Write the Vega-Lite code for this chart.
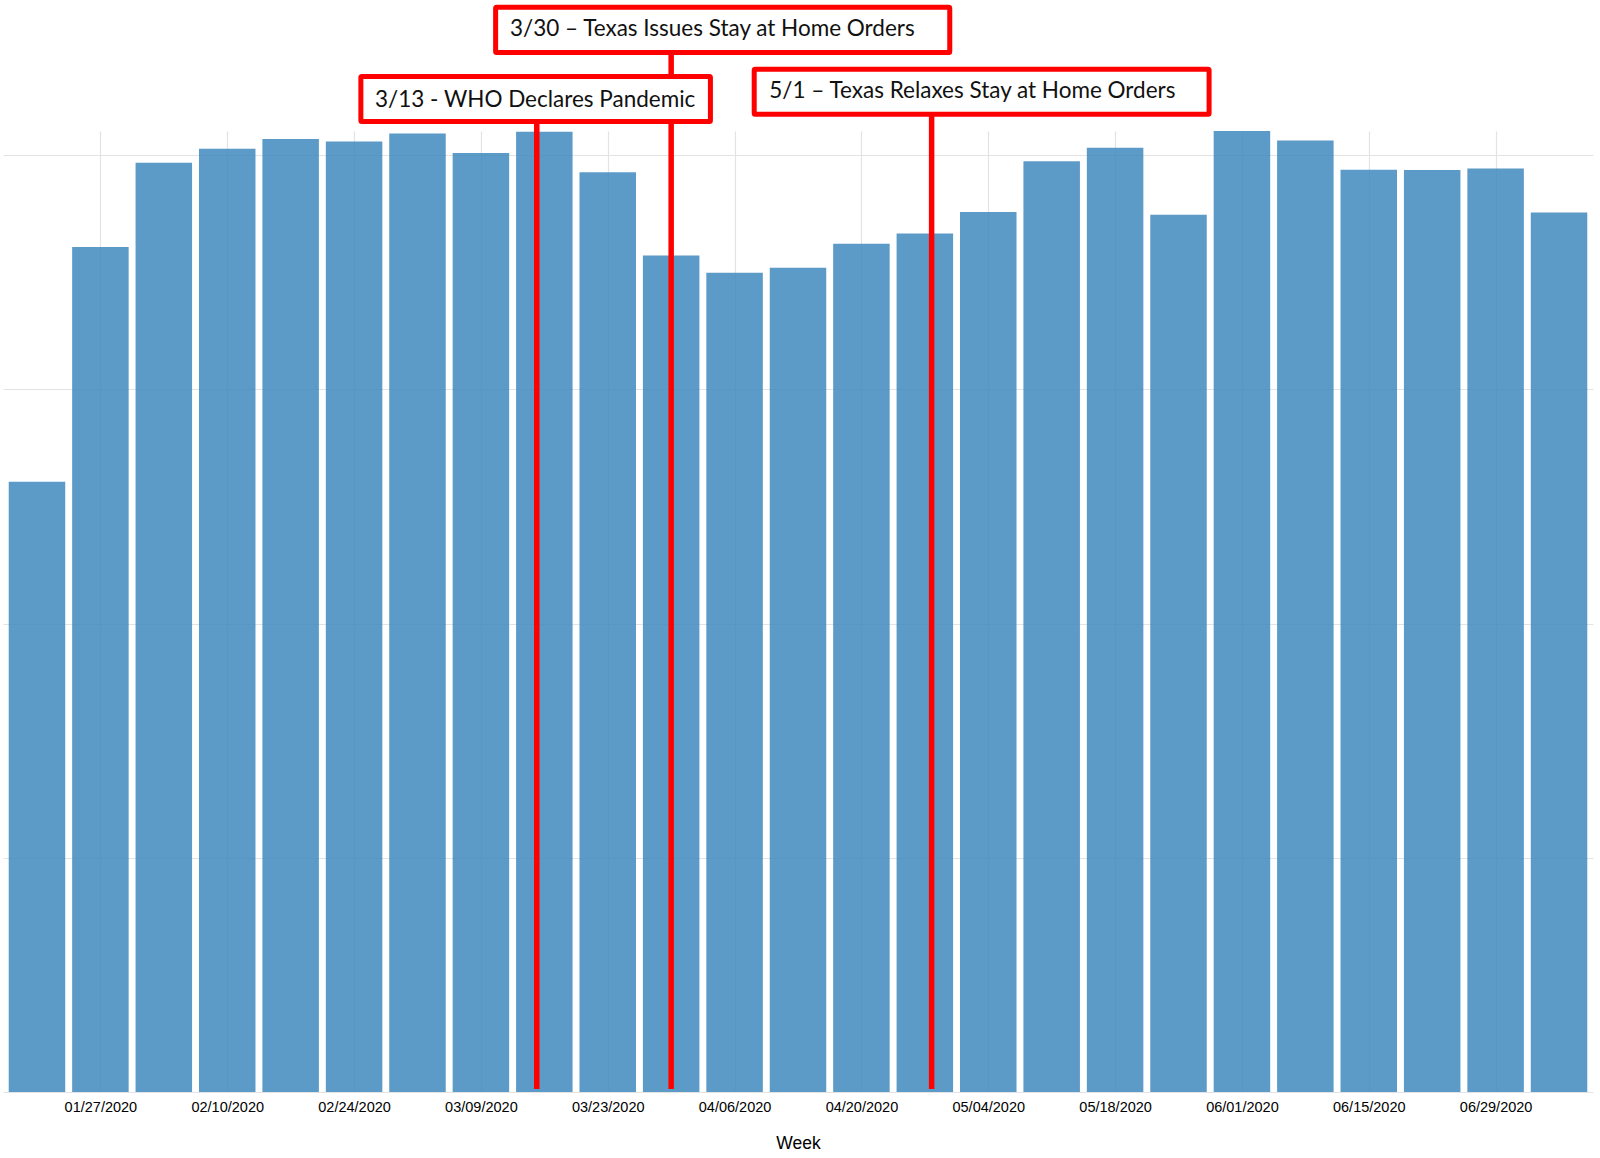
{
  "$schema": "https://vega.github.io/schema/vega-lite/v6.json",
  "width": 1590,
  "height": 961,
  "autosize": {"type": "none"},
  "padding": {"left": 3, "top": 131, "right": 7, "bottom": 66},
  "background": "white",
  "config": {"view": {"stroke": null}},
  "datasets": {
    "weeks": [
      {"week": "2020-01-20", "value": 2606},
      {"week": "2020-01-27", "value": 3608},
      {"week": "2020-02-03", "value": 3967},
      {"week": "2020-02-10", "value": 4027},
      {"week": "2020-02-17", "value": 4069},
      {"week": "2020-02-24", "value": 4058},
      {"week": "2020-03-02", "value": 4092},
      {"week": "2020-03-09", "value": 4009},
      {"week": "2020-03-16", "value": 4100},
      {"week": "2020-03-23", "value": 3927},
      {"week": "2020-03-30", "value": 3571},
      {"week": "2020-04-06", "value": 3498},
      {"week": "2020-04-13", "value": 3519},
      {"week": "2020-04-20", "value": 3622},
      {"week": "2020-04-27", "value": 3665},
      {"week": "2020-05-04", "value": 3757},
      {"week": "2020-05-11", "value": 3974},
      {"week": "2020-05-18", "value": 4031},
      {"week": "2020-05-25", "value": 3745},
      {"week": "2020-06-01", "value": 4103},
      {"week": "2020-06-08", "value": 4062},
      {"week": "2020-06-15", "value": 3938},
      {"week": "2020-06-22", "value": 3937},
      {"week": "2020-06-29", "value": 3943},
      {"week": "2020-07-06", "value": 3755}
    ],
    "events": [
      {"event": "3/13 - WHO Declares Pandemic", "line_date": "2020-03-15T04:00:00Z", "line_top": 4240, "line_bottom": 13, "box_start": "2020-02-24T18:00:00Z", "box_end": "2020-04-03T08:00:00Z", "box_top": 4336, "box_bottom": 4144, "text_date": "2020-02-26T07:30:00Z", "text_y": 4207},
      {"event": "3/30 – Texas Issues Stay at Home Orders", "line_date": "2020-03-30T00:00:00Z", "line_top": 4534, "line_bottom": 13, "box_start": "2020-03-10T15:00:00Z", "box_end": "2020-04-29T18:00:00Z", "box_top": 4631, "box_bottom": 4438, "text_date": "2020-03-12T05:00:00Z", "text_y": 4509},
      {"event": "5/1 – Texas Relaxes Stay at Home Orders", "line_date": "2020-04-27T18:00:00Z", "line_top": 4271, "line_bottom": 13, "box_start": "2020-04-08T04:00:00Z", "box_end": "2020-05-28T09:00:00Z", "box_top": 4367, "box_bottom": 4175, "text_date": "2020-04-09T20:00:00Z", "text_y": 4243}
    ]
  },
  "layer": [
    {
      "data": {"name": "weeks"},
      "mark": {"type": "bar", "width": 56.5, "color": "#4089be", "opacity": 0.85},
      "encoding": {
        "x": {
          "field": "week",
          "type": "temporal",
          "title": "Week",
          "scale": {
            "type": "utc",
            "padding": 0,
            "domain": [
              {"year": 2020, "month": 1, "date": 16, "hours": 6, "utc": true},
              {"year": 2020, "month": 7, "date": 9, "hours": 18, "utc": true}
            ]
          },
          "axis": {
            "title": "Week",
            "values": [
              {"year": 2020, "month": 1, "date": 27, "utc": true},
              {"year": 2020, "month": 2, "date": 10, "utc": true},
              {"year": 2020, "month": 2, "date": 24, "utc": true},
              {"year": 2020, "month": 3, "date": 9, "utc": true},
              {"year": 2020, "month": 3, "date": 23, "utc": true},
              {"year": 2020, "month": 4, "date": 6, "utc": true},
              {"year": 2020, "month": 4, "date": 20, "utc": true},
              {"year": 2020, "month": 5, "date": 4, "utc": true},
              {"year": 2020, "month": 5, "date": 18, "utc": true},
              {"year": 2020, "month": 6, "date": 1, "utc": true},
              {"year": 2020, "month": 6, "date": 15, "utc": true},
              {"year": 2020, "month": 6, "date": 29, "utc": true}
            ],
            "format": "%m/%d/%Y",
            "grid": true,
            "gridColor": "#e3e3e3",
            "gridWidth": 1.2,
            "ticks": false,
            "domain": false,
            "labelFont": "Liberation Sans",
            "labelFontSize": 14.5,
            "labelColor": "#000000",
            "labelPadding": 8,
            "labelFlush": false,
            "labelOverlap": false,
            "titleFont": "Liberation Sans",
            "titleFontSize": 17.5,
            "titleFontWeight": "normal",
            "titleColor": "#000000",
            "titlePadding": 21
          }
        },
        "y": {
          "field": "value",
          "type": "quantitative",
          "title": null,
          "scale": {"domain": [0, 4103], "nice": false, "zero": true, "padding": 0},
          "axis": {
            "title": null,
            "labels": false,
            "ticks": false,
            "domain": false,
            "grid": true,
            "gridColor": "#e3e3e3",
            "gridWidth": 1.2,
            "values": [0, 1000, 2000, 3000, 4000]
          }
        }
      }
    },
    {
      "data": {"name": "events"},
      "mark": {"type": "rule", "color": "#ff0000", "strokeWidth": 5.5},
      "encoding": {
        "x": {"field": "line_date", "type": "temporal", "title": "Week"},
        "y": {"field": "line_top", "type": "quantitative", "title": null},
        "y2": {"field": "line_bottom"}
      }
    },
    {
      "data": {"name": "events"},
      "mark": {"type": "rect", "fill": "white", "stroke": "#ff0000", "strokeWidth": 5, "cornerRadius": 1},
      "encoding": {
        "x": {"field": "box_start", "type": "temporal", "title": "Week"},
        "x2": {"field": "box_end"},
        "y": {"field": "box_top", "type": "quantitative", "title": null},
        "y2": {"field": "box_bottom"}
      }
    },
    {
      "data": {"name": "events"},
      "mark": {"type": "text", "font": "Lato", "fontSize": 22.5, "color": "#111111", "align": "left", "baseline": "alphabetic"},
      "encoding": {
        "x": {"field": "text_date", "type": "temporal", "title": "Week"},
        "y": {"field": "text_y", "type": "quantitative", "title": null},
        "text": {"field": "event"}
      }
    }
  ]
}
